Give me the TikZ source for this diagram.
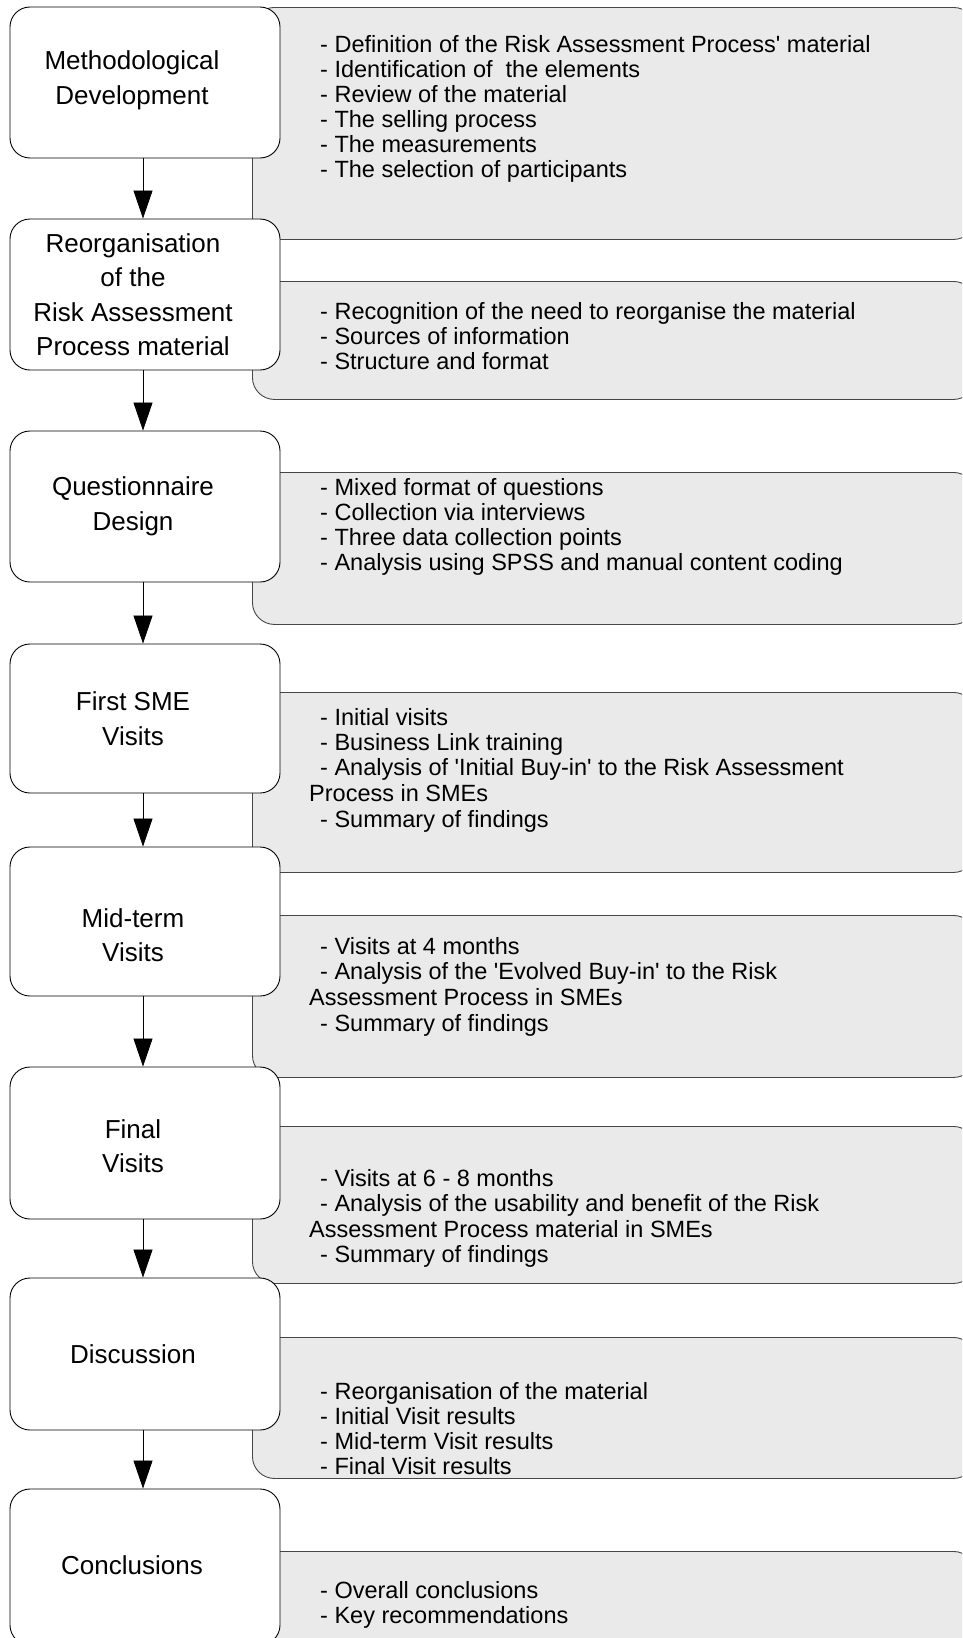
\documentclass[tikz,border=0pt]{standalone}
\usepackage{fontspec}
\setmainfont{Liberation Sans}
\usetikzlibrary{arrows.meta}
\definecolor{greyfill}{RGB}{234,234,234}
\definecolor{edgegrey}{RGB}{70,70,70}
\newcommand{\sq}{\textquotesingle}
\begin{document}
\begin{tikzpicture}[x=1pt,y=-1pt,
  stage/.style={draw=black, line width=0.9pt, fill=white, rounded corners=20pt,
    minimum width=270pt, inner sep=0pt},
  stagetext/.style={align=center, inner sep=0pt,
    font=\fontsize{26}{34.5}\selectfont},
  panel/.style={draw=edgegrey, line width=0.9pt, fill=greyfill, rounded corners=22pt,
    minimum width=723pt, anchor=north west, inner sep=0pt},
  item/.style={anchor=base west, inner sep=0pt, font=\fontsize{23.5}{25}\selectfont},
  flow/.style={line width=0.8pt, -{Triangle[width=19pt,length=28pt]}}]
\useasboundingbox (0,0) rectangle (962,1638);
\clip (0,0) rectangle (962,1638);

% grey panels
\node[panel, minimum height=232pt] (p1) at (252,7) {};
\node[panel, minimum height=118pt] (p2) at (252,281) {};
\node[panel, minimum height=152pt] (p3) at (252,472) {};
\node[panel, minimum height=180pt] (p4) at (252,692) {};
\node[panel, minimum height=162pt] (p5) at (252,915) {};
\node[panel, minimum height=157pt] (p6) at (252,1126) {};
\node[panel, minimum height=141pt] (p7) at (252,1337) {};
\node[panel, minimum height=150pt] (p8) at (252,1551) {};

% stages
\node[stage, minimum height=151pt] (s1) at (145,82.5) {};
\node[stage, minimum height=151pt] (s2) at (145,294.5) {};
\node[stage, minimum height=151pt] (s3) at (145,506.5) {};
\node[stage, minimum height=149pt] (s4) at (145,718.5) {};
\node[stage, minimum height=149pt] (s5) at (145,921.5) {};
\node[stage, minimum height=152pt] (s6) at (145,1143) {};
\node[stage, minimum height=152pt] (s7) at (145,1354) {};
\node[stage, minimum height=156pt] (s8) at (145,1567) {};

\node[stagetext] (l1) at (132,80.5) {Methodological\\Development};
\node[stagetext] (l2) at (133,294.5) {Reorganisation\\of the\\Risk Assessment\\Process material};
\node[stagetext] (l3) at (133,506.5) {Questionnaire\\Design};
\node[stagetext] (l4) at (133,718.5) {First SME\\Visits};
\node[stagetext] (l5) at (133,935) {Mid-term\\Visits};
\node[stagetext] (l6) at (133,1146) {Final\\Visits};
\node[stagetext] (l7) at (133,1354) {Discussion};
\node[stagetext] (l8) at (132,1565) {Conclusions};

% arrows
\foreach \a/\b in {s1/s2,s2/s3,s3/s4,s4/s5,s5/s6,s6/s7,s7/s8}
  \draw[flow] ([xshift=-2pt]\a.south) -- ([xshift=-2pt]\b.north);

% panel texts
\foreach \t [count=\i] in {- Definition of the Risk Assessment Process\sq\ material,
  - Identification of\ \ the elements, - Review of the material,
  - The selling process, - The measurements, - The selection of participants}
  \node[item] (a\i) at (320,{52+(\i-1)*25}) {\t};

\foreach \t [count=\i] in {- Recognition of the need to reorganise the material,
  - Sources of information, - Structure and format}
  \node[item] (b\i) at (320,{319+(\i-1)*25}) {\t};

\foreach \t [count=\i] in {- Mixed format of questions, - Collection via interviews,
  - Three data collection points, - Analysis using SPSS and manual content coding}
  \node[item] (c\i) at (320,{495+(\i-1)*25}) {\t};

\node[item] (d1) at (320,725) {- Initial visits};
\node[item] (d2) at (320,750) {- Business Link training};
\node[item] (d3) at (320,775) {- Analysis of \sq Initial Buy-in\sq\ to the Risk Assessment};
\node[item] (d4) at (309,801) {Process in SMEs};
\node[item] (d5) at (320,827) {- Summary of findings};

\node[item] (e1) at (320,954) {- Visits at 4 months};
\node[item] (e2) at (320,979) {- Analysis of the \sq Evolved Buy-in\sq\ to the Risk};
\node[item] (e3) at (309,1005) {Assessment Process in SMEs};
\node[item] (e4) at (320,1031) {- Summary of findings};

\node[item] (f1) at (320,1186) {- Visits at 6 - 8 months};
\node[item] (f2) at (320,1211) {- Analysis of the usability and benefit of the Risk};
\node[item] (f3) at (309,1237) {Assessment Process material in SMEs};
\node[item] (f4) at (320,1262) {- Summary of findings};

\foreach \t [count=\i] in {- Reorganisation of the material, - Initial Visit results,
  - Mid-term Visit results, - Final Visit results}
  \node[item] (g\i) at (320,{1399+(\i-1)*25}) {\t};

\node[item] (h1) at (320,1598) {- Overall conclusions};
\node[item] (h2) at (320,1623) {- Key recommendations};
\end{tikzpicture}
\end{document}
